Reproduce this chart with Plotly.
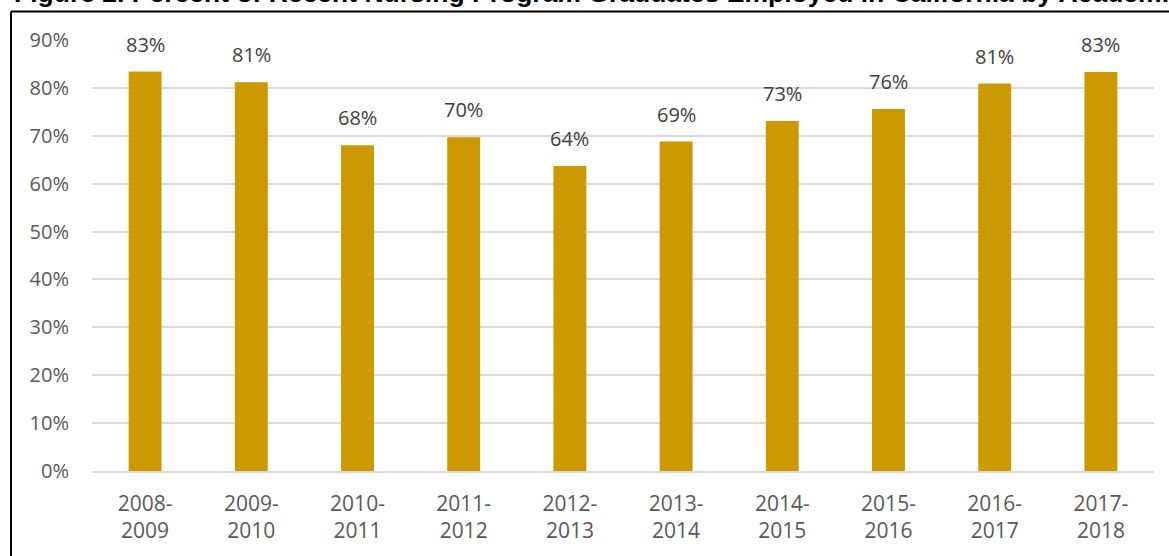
import plotly.graph_objects as go

years = ["2008-<br>2009", "2009-<br>2010", "2010-<br>2011", "2011-<br>2012", "2012-<br>2013",
         "2013-<br>2014", "2014-<br>2015", "2015-<br>2016", "2016-<br>2017", "2017-<br>2018"]
employed_pct = [83.4, 81.2, 68.0, 69.7, 63.7, 68.8, 73.1, 75.6, 80.9, 83.3]
y_ticks = [0, 10, 20, 30, 40, 50, 60, 70, 80, 90]
y_tick_labels = [f"{v}%" for v in y_ticks]
title_text = "Figure 2. Percent of Recent Nursing Program Graduates Employed in California by Academic Year"

W, H = 1169, 556
ml, mr, mt, mb = 92, 15, 39.5, 85

fig = go.Figure()
fig.add_trace(go.Bar(x=years, y=employed_pct, marker=dict(color="#CC9900", line=dict(width=0)),
                     hoverinfo="skip"))

for x, v in zip(years, employed_pct):
    fig.add_annotation(x=x, y=v, text=f"{round(v)}%", showarrow=False, yanchor="bottom",
                       yshift=12, font=dict(family="Open Sans", size=20, color="#404040"))

pw = W - ml - mr
ph = H - mt - mb
def px(xp):
    return (xp - ml) / pw
def py(yp):
    return (H - mb - yp) / ph

# title (clipped at top of page)
fig.add_annotation(xref="paper", yref="paper", x=px(12), xanchor="left",
                   y=py(9), yanchor="bottom",
                   text=f"<b>{title_text}</b>", showarrow=False,
                   font=dict(family="Liberation Sans", size=26.5, color="black"))

# border box (left and top edges visible)
fig.add_shape(type="line", xref="paper", yref="paper", x0=px(11), x1=px(1200), y0=py(11), y1=py(11),
              line=dict(color="black", width=2))
fig.add_shape(type="line", xref="paper", yref="paper", x0=px(11), x1=px(11), y0=py(11), y1=py(600),
              line=dict(color="black", width=2))

fig.update_layout(
    width=W, height=H,
    margin=dict(l=ml, r=mr, t=mt, b=mb),
    plot_bgcolor="white", paper_bgcolor="white",
    bargap=0.69,
    showlegend=False,
    font=dict(family="Open Sans", size=20, color="#595959"),
    xaxis=dict(showgrid=False, showline=True, linecolor="#D9D9D9", linewidth=1.5,
               ticks="", ticklabelstandoff=13, tickfont=dict(size=21, color="#595959")),
    yaxis=dict(range=[0, 90], tickvals=y_ticks, ticktext=y_tick_labels,
               showgrid=True, gridcolor="#D9D9D9", gridwidth=1.5, zeroline=False,
               showline=False, ticks="", ticklabelstandoff=22,
               tickfont=dict(size=20, color="#595959")),
)

fig.write_html("out.html")
